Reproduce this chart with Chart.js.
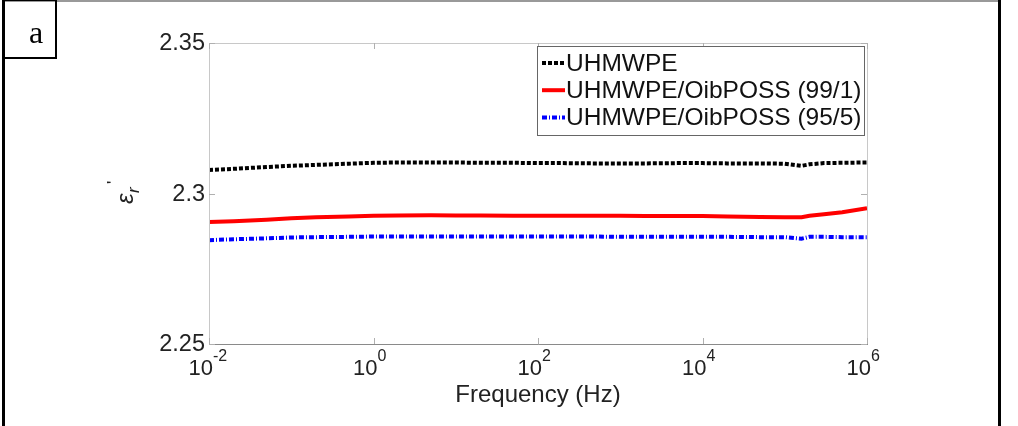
<!DOCTYPE html>
<html>
<head>
<meta charset="utf-8">
<script src="https://cdn.jsdelivr.net/npm/chart.js@4/dist/chart.umd.min.js"></script>
<style>
  html, body { margin: 0; padding: 0; background: #fff; }
  #wrap { width: 1018px; height: 426px; }
</style>
</head>
<body>
<div id="wrap"><canvas id="permChart" width="1018" height="426"></canvas></div>
<script>
// frequency points (Hz)
const freq = [0.01, 0.02, 0.05, 0.1, 0.2, 0.5, 1, 2, 5, 10, 20, 50, 100, 200, 500, 1e3, 2e3, 5e3, 1e4, 2e4, 5e4, 1e5, 1.6e5, 2e5, 3e5, 5e5, 1e6];

// real permittivity values per sample
const uhmwpe   = [2.3078, 2.3082, 2.3088, 2.3092, 2.3095, 2.3099, 2.3102, 2.3103, 2.3103, 2.3103, 2.3102, 2.3102, 2.3101, 2.3101, 2.3100, 2.3100, 2.3100, 2.3101, 2.3101, 2.3100, 2.3100, 2.3099, 2.3092, 2.3097, 2.3101, 2.3102, 2.3103];
const poss991  = [2.2905, 2.2908, 2.2913, 2.2918, 2.2921, 2.2924, 2.2926, 2.2927, 2.2928, 2.2927, 2.2927, 2.2926, 2.2926, 2.2926, 2.2926, 2.2926, 2.2925, 2.2925, 2.2925, 2.2924, 2.2922, 2.2921, 2.2921, 2.2926, 2.2931, 2.2938, 2.2951];
const poss955  = [2.2845, 2.2848, 2.2851, 2.2854, 2.2855, 2.2856, 2.2857, 2.2857, 2.2857, 2.2857, 2.2857, 2.2857, 2.2857, 2.2857, 2.2857, 2.2856, 2.2856, 2.2856, 2.2856, 2.2856, 2.2855, 2.2855, 2.2850, 2.2856, 2.2856, 2.2855, 2.2855];

const seriesLabels = ['UHMWPE', 'UHMWPE/OibPOSS (99/1)', 'UHMWPE/OibPOSS (95/5)'];

// tick labels
const xTicks = [0.01, 1, 100, 1e4, 1e6];
const xTickExp = ['-2', '0', '2', '4', '6'];
const yTicks = [2.25, 2.3, 2.35];
const yTickLabels = ['2.25', '2.3', '2.35'];

const toPoints = vals => freq.map((f, i) => ({ x: f, y: vals[i] }));

const SANS = '"Liberation Sans", Arial, sans-serif';

// draws frame, axes box, MATLAB-style ticks, labels and legend
const decor = {
    id: 'decor',
    afterDraw(chart) {
        const ctx = chart.ctx;
        const area = chart.chartArea;
        const xs = chart.scales.x;
        const ys = chart.scales.y;
        ctx.save();

        // outer figure frame
        ctx.strokeStyle = '#999';
        ctx.lineWidth = 2;
        ctx.beginPath();
        ctx.moveTo(3, 1); ctx.lineTo(1001, 1);
        ctx.stroke();
        ctx.strokeStyle = '#000';
        ctx.lineWidth = 3;
        ctx.beginPath();
        ctx.moveTo(3.5, 0); ctx.lineTo(3.5, 426);
        ctx.moveTo(999.5, 0); ctx.lineTo(999.5, 426);
        ctx.stroke();

        // panel letter box
        ctx.lineWidth = 2;
        ctx.strokeRect(4, 0, 52, 58);
        ctx.fillStyle = '#000';
        ctx.font = '32px "Liberation Serif", "Times New Roman", serif';
        ctx.textAlign = 'center';
        ctx.textBaseline = 'alphabetic';
        ctx.fillText('a', 36, 43);

        // axes box
        ctx.lineWidth = 1;
        ctx.strokeStyle = '#c8c8c8';
        ctx.strokeRect(area.left + 0.5, area.top + 0.5, area.right - area.left, area.bottom - area.top);
        ctx.strokeStyle = '#8a8a8a';
        ctx.beginPath();
        ctx.moveTo(area.left, area.bottom + 0.5); ctx.lineTo(area.right + 1, area.bottom + 0.5);
        ctx.stroke();

        // inward ticks
        ctx.strokeStyle = '#b0b0b0';
        ctx.beginPath();
        xTicks.forEach(v => {
            const px = Math.round(xs.getPixelForValue(v)) + 0.5;
            ctx.moveTo(px, area.bottom); ctx.lineTo(px, area.bottom - 6);
            ctx.moveTo(px, area.top); ctx.lineTo(px, area.top + 6);
        });
        yTicks.forEach(v => {
            const py = Math.round(ys.getPixelForValue(v)) + 0.5;
            ctx.moveTo(area.left, py); ctx.lineTo(area.left + 6, py);
            ctx.moveTo(area.right, py); ctx.lineTo(area.right - 6, py);
        });
        ctx.stroke();

        // y tick labels
        ctx.fillStyle = '#222';
        ctx.font = '23.5px ' + SANS;
        ctx.textAlign = 'right';
        ctx.textBaseline = 'middle';
        yTicks.forEach((v, i) => {
            ctx.fillText(yTickLabels[i], area.left - 4, ys.getPixelForValue(v) + 1);
        });

        // x tick labels: 10 with superscript exponent
        ctx.textBaseline = 'alphabetic';
        xTicks.forEach((v, i) => {
            const px = xs.getPixelForValue(v);
            ctx.font = '22px ' + SANS;
            ctx.textAlign = 'right';
            ctx.fillText('10', px + 4, 375);
            ctx.font = '16px ' + SANS;
            ctx.textAlign = 'left';
            ctx.fillText(xTickExp[i], px + 4, 361);
        });

        // x axis title
        ctx.font = '24px ' + SANS;
        ctx.textAlign = 'center';
        ctx.fillText('Frequency (Hz)', (area.left + area.right) / 2, 402);

        // y axis title: epsilon_r'
        ctx.save();
        ctx.translate(133, 192);
        ctx.rotate(-Math.PI / 2);
        ctx.textAlign = 'left';
        ctx.font = 'italic 24px ' + SANS;
        ctx.fillText('\u03b5', -12, 0);
        ctx.font = 'italic 17px ' + SANS;
        ctx.fillText('r', -1, 6);
        ctx.font = '17px ' + SANS;
        ctx.fillText('\'', 8, -14);
        ctx.restore();

        // legend
        const lx = 537, ly = 46, lw = 327, lh = 89;
        ctx.fillStyle = '#fff';
        ctx.fillRect(lx, ly, lw, lh);
        ctx.strokeStyle = '#666';
        ctx.lineWidth = 1;
        ctx.strokeRect(lx + 0.5, ly + 0.5, lw, lh);
        chart.data.datasets.forEach((ds, i) => {
            const ry = 63 + i * 27.2;
            ctx.strokeStyle = ds.borderColor;
            ctx.lineWidth = ds.borderWidth;
            ctx.setLineDash(ds.borderDash || []);
            ctx.beginPath();
            ctx.moveTo(542, ry); ctx.lineTo(565, ry);
            ctx.stroke();
            ctx.setLineDash([]);
            ctx.fillStyle = '#111';
            ctx.font = '24.5px ' + SANS;
            ctx.textAlign = 'left';
            ctx.textBaseline = 'middle';
            ctx.fillText(ds.label, 566, ry + 1);
        });

        ctx.restore();
    }
};

document.addEventListener('DOMContentLoaded', () => {
    const permCtx = document.getElementById('permChart').getContext('2d');
    new Chart(permCtx, {
        type: 'line',
        data: {
            datasets: [{
                label: seriesLabels[0],
                data: toPoints(uhmwpe),
                borderColor: '#000000',
                borderWidth: 4,
                borderDash: [4, 2],
                pointRadius: 0,
                tension: 0
            }, {
                label: seriesLabels[1],
                data: toPoints(poss991),
                borderColor: '#ff0000',
                borderWidth: 4,
                pointRadius: 0,
                tension: 0
            }, {
                label: seriesLabels[2],
                data: toPoints(poss955),
                borderColor: '#0000ff',
                borderWidth: 4,
                borderDash: [5, 2, 1, 2],
                pointRadius: 0,
                tension: 0
            }]
        },
        options: {
            responsive: false,
            animation: false,
            events: [],
            layout: { padding: { left: 209, right: 151, top: 43, bottom: 82 } },
            plugins: { legend: { display: false }, tooltip: { enabled: false } },
            scales: {
                x: { type: 'logarithmic', min: 0.01, max: 1e6, display: false },
                y: { type: 'linear', min: 2.25, max: 2.35, display: false }
            }
        },
        plugins: [decor]
    });
});
</script>
</body>
</html>
